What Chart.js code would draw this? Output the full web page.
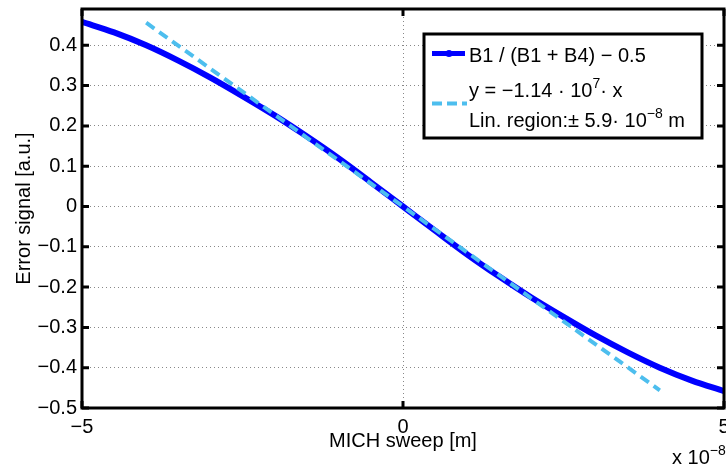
<!DOCTYPE html>
<html>
<head>
<meta charset="utf-8">
<script src="https://cdn.jsdelivr.net/npm/chart.js@4.4.0/dist/chart.umd.min.js"></script>
<style>
  html, body { margin: 0; padding: 0; background: #fff; }
</style>
</head>
<body>
<canvas id="myChart" width="726" height="468"></canvas>
<script>
// sweep position in units of 1e-8 m
const sweepX = [-5, -4.5, -4, -3.5, -3, -2.5, -2, -1.5, -1, -0.5, 0, 0.5, 1, 1.5, 2, 2.5, 3, 3.5, 4, 4.5, 5];
// B1 / (B1 + B4) - 0.5
const errorSignal = [0.458, 0.432, 0.400, 0.362, 0.320, 0.274, 0.226, 0.174, 0.119, 0.060, 0,
  -0.060, -0.119, -0.174, -0.226, -0.274, -0.320, -0.362, -0.400, -0.432, -0.458];
// linear fit y = -1.14e7 * x, drawn over the linear region
const fitX = [-4, 4];
const fitY = [0.456, -0.456];

const xTicks = [-5, 0, 5];
const xTickLabels = ['\u22125', '0', '5'];
const yTicks = [-0.5, -0.4, -0.3, -0.2, -0.1, 0, 0.1, 0.2, 0.3, 0.4];
const yTickLabels = ['\u22120.5', '\u22120.4', '\u22120.3', '\u22120.2', '\u22120.1', '0', '0.1', '0.2', '0.3', '0.4'];

const FONT = '"Liberation Sans", Arial, sans-serif';
const LIGHT = '#4dbeee';

Chart.defaults.font.family = FONT;
Chart.defaults.color = '#000';

// box, inward ticks, legend and exponent label (MATLAB look)
const framePlugin = {
  id: 'frame',
  afterDraw(chart) {
    const ctx = chart.ctx;
    const a = chart.chartArea;
    const sx = chart.scales.x, sy = chart.scales.y;
    ctx.save();
    ctx.strokeStyle = '#000';
    ctx.lineWidth = 3;
    ctx.beginPath();
    yTicks.forEach(v => {
      const py = sy.getPixelForValue(v);
      ctx.moveTo(a.left, py); ctx.lineTo(a.left + 7, py);
      ctx.moveTo(a.right, py); ctx.lineTo(a.right - 7, py);
    });
    xTicks.forEach(v => {
      const px = sx.getPixelForValue(v);
      ctx.moveTo(px, a.bottom); ctx.lineTo(px, a.bottom - 7);
      ctx.moveTo(px, a.top); ctx.lineTo(px, a.top + 7);
    });
    ctx.stroke();
    ctx.strokeRect(a.left, a.top, a.right - a.left, a.bottom - a.top);

    // legend
    ctx.fillStyle = '#fff';
    ctx.fillRect(424, 34, 278, 104);
    ctx.lineWidth = 3;
    ctx.strokeRect(424, 34, 278, 104);

    ctx.strokeStyle = '#0000ff';
    ctx.lineWidth = 5;
    ctx.beginPath(); ctx.moveTo(432, 53.5); ctx.lineTo(465, 53.5); ctx.stroke();
    ctx.fillStyle = '#0000ff';
    ctx.beginPath(); ctx.arc(449, 53.5, 3.5, 0, Math.PI * 2); ctx.fill();

    ctx.strokeStyle = LIGHT;
    ctx.lineWidth = 4;
    ctx.setLineDash([10, 5]);
    ctx.beginPath(); ctx.moveTo(432, 103.5); ctx.lineTo(467, 103.5); ctx.stroke();
    ctx.setLineDash([]);

    ctx.fillStyle = '#000';
    ctx.textBaseline = 'alphabetic';
    ctx.textAlign = 'left';
    const big = '20px ' + FONT, small = '14px ' + FONT;
    function parts(x, y, list) {
      list.forEach(p => {
        ctx.font = p[1] ? small : big;
        ctx.fillText(p[0], x, p[1] ? y - 9 : y);
        x += ctx.measureText(p[0]).width;
      });
    }
    parts(469, 61.5, [['B1 / (B1 + B4) \u2212 0.5', false]]);
    parts(469, 97, [['y = \u22121.14 \u00b7 10', false], ['7', true], ['\u00b7 x', false]]);
    parts(469, 126.5, [['Lin. region:\u00b1 5.9\u00b7 10', false], ['\u22128', true], [' m', false]]);

    // axis exponent
    parts(672, 464, [['x 10', false], ['\u22128', true]]);
    ctx.restore();
  }
};

const myChart = new Chart(document.getElementById('myChart'), {
  type: 'scatter',
  data: {
    datasets: [
      {
        label: 'y = -1.14e7 x',
        data: fitX.map((x, i) => ({ x: x, y: fitY[i] })),
        showLine: true,
        borderColor: LIGHT,
        borderWidth: 4,
        borderDash: [10, 6],
        pointRadius: 0,
        order: 0
      },
      {
        label: 'B1 / (B1 + B4) - 0.5',
        data: sweepX.map((x, i) => ({ x: x, y: errorSignal[i] })),
        showLine: true,
        borderColor: '#0000ff',
        borderWidth: 6,
        pointRadius: 0,
        cubicInterpolationMode: 'monotone',
        order: 1
      }
    ]
  },
  options: {
    responsive: false,
    animation: false,
    layout: { padding: { top: 9, right: 2, left: 0, bottom: 0 } },
    plugins: {
      legend: { display: false },
      tooltip: { enabled: false }
    },
    scales: {
      x: {
        type: 'linear',
        min: -5,
        max: 5,
        afterBuildTicks: s => { s.ticks = xTicks.map(v => ({ value: v })); },
        afterFit: s => { s.height = 60; s.paddingLeft = 0; s.paddingRight = 0; },
        ticks: {
          callback: (v, i) => xTickLabels[i],
          font: { size: 20 },
          color: '#000',
          padding: 7,
          maxRotation: 0,
          autoSkip: false
        },
        grid: { color: '#888', lineWidth: 1, drawTicks: false },
        border: { display: false, dash: [1, 3] },
        title: {
          display: true,
          text: 'MICH sweep [m]',
          font: { size: 20 },
          color: '#000',
          padding: { top: 0, bottom: 15 }
        }
      },
      y: {
        type: 'linear',
        min: -0.5,
        max: 0.49,
        afterBuildTicks: s => { s.ticks = yTicks.map(v => ({ value: v })); },
        afterFit: s => { s.width = 82; s.paddingTop = 0; s.paddingBottom = 0; },
        ticks: {
          callback: (v, i) => yTickLabels[i],
          font: { size: 20 },
          color: '#000',
          padding: 5,
          autoSkip: false
        },
        grid: { color: '#888', lineWidth: 1, drawTicks: false },
        border: { display: false, dash: [1, 3] },
        title: {
          display: true,
          text: 'Error signal [a.u.]',
          font: { size: 20 },
          color: '#000',
          padding: { top: 12, bottom: 0 }
        }
      }
    }
  },
  plugins: [framePlugin]
});
</script>
</body>
</html>
